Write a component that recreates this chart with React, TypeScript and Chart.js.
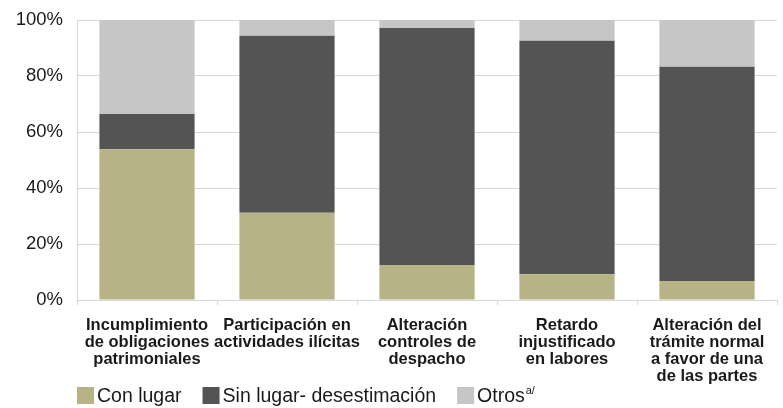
import React, { useEffect, useRef } from 'react';
import { Chart, registerables } from 'chart.js';

Chart.register(...registerables);

const categories: string[][] = [
  ['Incumplimiento', 'de obligaciones', 'patrimoniales'],
  ['Participación en', 'actividades ilícitas'],
  ['Alteración', 'controles de', 'despacho'],
  ['Retardo', 'injustificado', 'en labores'],
  ['Alteración del', 'trámite normal', 'a favor de una', 'de las partes'],
];

const seriesNames = ['Con lugar', 'Sin lugar- desestimación', 'Otros'];
const seriesSuperscripts = ['', '', 'a/'];
const conLugar = [53.8, 31.2, 12.5, 9.2, 6.8];
const sinLugar = [12.6, 63.2, 84.6, 83.4, 76.5];
const otros = [33.6, 5.6, 2.9, 7.4, 16.7];
const seriesColors = ['#b7b386', '#545454', '#c6c6c6'];
const yTickValues = [0, 20, 40, 60, 80, 100];

const FONT = "'Liberation Sans', Arial, sans-serif";

const customLegend = {
  id: 'customLegend',
  afterDraw(chart: any) {
    const ctx = chart.ctx as CanvasRenderingContext2D;
    const box = 17;
    const gap = 3;
    const spacing = 21;
    let x = 77;
    const cy = 395.5;
    ctx.save();
    ctx.textBaseline = 'middle';
    ctx.textAlign = 'left';
    chart.data.datasets.forEach((ds: any, i: number) => {
      ctx.fillStyle = ds.backgroundColor;
      ctx.fillRect(x, cy - box / 2, box, box);
      x += box + gap;
      ctx.font = `19.5px ${FONT}`;
      ctx.fillStyle = '#1a1a1a';
      ctx.fillText(ds.label, x, cy + 1);
      x += ctx.measureText(ds.label).width;
      const sup = seriesSuperscripts[i];
      if (sup) {
        ctx.font = `11px ${FONT}`;
        ctx.fillText(sup, x + 1, cy - 5);
        x += ctx.measureText(sup).width + 1;
      }
      x += spacing;
    });
    ctx.restore();
  },
};

export default function App() {
  const ref = useRef<HTMLCanvasElement | null>(null);
  useEffect(() => {
    if (!ref.current) return;
    const datasets = [conLugar, sinLugar, otros].map((d, i) => ({
      label: seriesNames[i],
      data: d,
      backgroundColor: seriesColors[i],
      borderWidth: 0,
      categoryPercentage: 1,
      barPercentage: 0.68,
    }));
    const chart = new Chart(ref.current, {
      type: 'bar',
      data: { labels: categories, datasets },
      options: {
        animation: false,
        responsive: false,
        layout: { padding: { left: 0, right: 6, top: 20, bottom: 18 } },
        plugins: {
          legend: { display: false },
          tooltip: { enabled: false },
        },
        scales: {
          x: {
            stacked: true,
            grid: {
              drawOnChartArea: false,
              drawTicks: true,
              tickLength: 5,
              color: '#d9d9d9',
              offset: true,
            },
            border: { display: true, color: '#d9d9d9' },
            ticks: {
              color: '#1a1a1a',
              maxRotation: 0,
              autoSkip: false,
              padding: 12,
              font: { family: FONT, size: 16.5, weight: 'bold', lineHeight: 1.03 },
            },
            afterFit: (s: any) => {
              s.height = 90;
            },
          },
          y: {
            stacked: true,
            min: 0,
            max: 100,
            afterBuildTicks: (s: any) => {
              s.ticks = yTickValues.map((v) => ({ value: v }));
            },
            grid: { color: '#d9d9d9', drawTicks: false },
            border: { display: true, color: '#d9d9d9' },
            ticks: {
              color: '#1a1a1a',
              padding: 14,
              font: { family: FONT, size: 18.5 },
              callback: (v: any) => `${v}%`,
            },
            afterFit: (s: any) => {
              s.width = 77;
              s.paddingTop = 11;
              s.paddingBottom = 11;
            },
          },
        },
      },
      plugins: [customLegend],
    });
    return () => chart.destroy();
  }, []);
  return (
    <div style={{ position: 'fixed', left: 0, top: 0, width: 783, height: 408, background: '#fff' }}>
      <canvas ref={ref} width={783} height={408} style={{ display: 'block' }} />
    </div>
  );
}
